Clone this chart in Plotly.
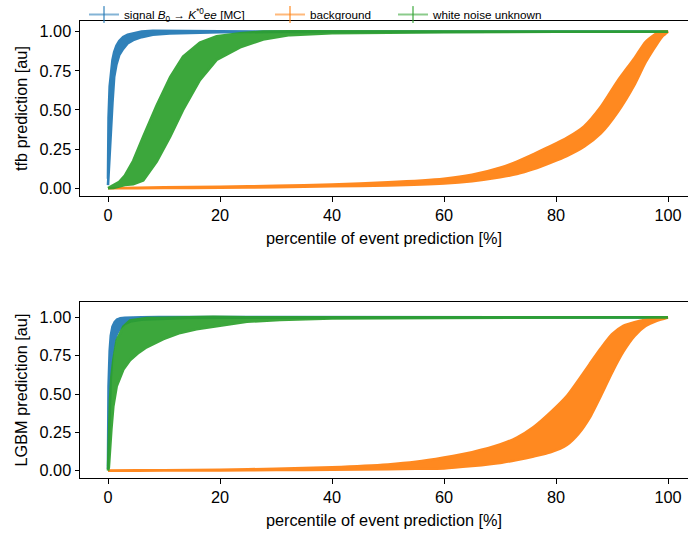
import plotly.graph_objects as go

# ---------------- data ----------------
series_names = ["signal <i>B</i><sub>0</sub> → <i>K</i><sup>*0</sup><i>ee</i> [MC]",
                "background", "white noise unknown"]
series_colors = ["#1f77b4", "#ff7f0e", "#2ca02c"]

# top panel: tfb prediction  (x = percentile, y = mean prediction, e = half error band)
tfb_sig_x = [0, 0.1, 0.3, 0.5, 0.8, 1.1, 1.5, 2.0, 2.7, 3.5, 4.5, 6, 8, 11, 15, 20, 30, 50, 100]
tfb_sig_y = [0.04, 0.265, 0.425, 0.535, 0.685, 0.79, 0.85, 0.895, 0.928, 0.953, 0.968, 0.983, 0.993, 0.997, 0.998, 0.999, 0.9995, 1.0, 1.0]
tfb_sig_e = [0.02, 0.185, 0.225, 0.205, 0.135, 0.08, 0.06, 0.045, 0.038, 0.028, 0.022, 0.018, 0.013, 0.009, 0.005, 0.003, 0.0015, 0.001, 0.0]

tfb_bkg_x = [0, 10, 20, 30, 40, 50, 60, 65, 70, 73, 76, 79, 82, 85, 88, 91, 94, 96, 98, 99, 100]
tfb_bkg_y = [0.0, 0.003, 0.006, 0.011, 0.018, 0.027, 0.045, 0.065, 0.1, 0.13, 0.17, 0.215, 0.265, 0.33, 0.435, 0.585, 0.745, 0.87, 0.955, 0.985, 1.0]
tfb_bkg_e = [0.0, 0.002, 0.003, 0.004, 0.006, 0.01, 0.015, 0.02, 0.03, 0.04, 0.048, 0.053, 0.058, 0.065, 0.085, 0.1, 0.085, 0.065, 0.035, 0.015, 0.0]

tfb_wn_x = [0, 1, 2, 3, 4.5, 6.3, 8.7, 11.1, 13.4, 16.4, 19.4, 23.6, 27.7, 32.5, 40, 50, 60, 80, 100]
tfb_wn_y = [0.0, 0.01, 0.025, 0.05, 0.1, 0.19, 0.35, 0.52, 0.67, 0.81, 0.895, 0.945, 0.975, 0.99, 0.996, 0.998, 0.999, 1.0, 1.0]
tfb_wn_e = [0.0, 0.008, 0.015, 0.03, 0.075, 0.14, 0.18, 0.19, 0.17, 0.12, 0.075, 0.045, 0.025, 0.012, 0.006, 0.003, 0.002, 0.001, 0.0]

# bottom panel: LGBM prediction
lgbm_sig_x = [0, 0.1, 0.3, 0.5, 0.8, 1.2, 1.6, 2.2, 3, 4, 6, 9, 14, 20, 40, 100]
lgbm_sig_y = [0.02, 0.35, 0.6, 0.74, 0.85, 0.91, 0.94, 0.962, 0.977, 0.986, 0.993, 0.997, 0.999, 1.0, 1.0, 1.0]
lgbm_sig_e = [0.01, 0.2, 0.18, 0.14, 0.09, 0.06, 0.045, 0.032, 0.02, 0.013, 0.008, 0.005, 0.003, 0.002, 0.001, 0.0]

lgbm_bkg_x = [0, 10, 20, 30, 40, 50, 55, 60, 65, 70, 73, 76, 79, 82, 84, 86, 88, 90, 92, 94, 96, 98, 100]
lgbm_bkg_y = [0.0, 0.002, 0.004, 0.008, 0.014, 0.025, 0.035, 0.05, 0.075, 0.11, 0.143, 0.189, 0.25, 0.33, 0.415, 0.52, 0.643, 0.765, 0.86, 0.923, 0.964, 0.985, 1.0]
lgbm_bkg_e = [0.0, 0.001, 0.002, 0.004, 0.008, 0.015, 0.022, 0.035, 0.045, 0.06, 0.073, 0.096, 0.13, 0.16, 0.175, 0.175, 0.155, 0.125, 0.085, 0.045, 0.02, 0.007, 0.0]

lgbm_wn_x = [0, 0.15, 0.36, 0.6, 0.95, 1.55, 2.74, 3.93, 5.5, 6.9, 9.9, 12.9, 15.8, 18.8, 24.8, 30.7, 40, 60, 100]
lgbm_wn_y = [0.0, 0.12, 0.28, 0.44, 0.57, 0.70, 0.80, 0.85, 0.88, 0.90, 0.928, 0.949, 0.962, 0.972, 0.986, 0.992, 0.997, 0.999, 1.0]
lgbm_wn_e = [0.0, 0.1, 0.18, 0.17, 0.15, 0.15, 0.14, 0.13, 0.11, 0.095, 0.07, 0.05, 0.04, 0.032, 0.015, 0.009, 0.004, 0.002, 0.0]

x_ticks = [0, 20, 40, 60, 80, 100]
y_ticks = [0.0, 0.25, 0.5, 0.75, 1.0]
y_ticktext = ["0.00", "0.25", "0.50", "0.75", "1.00"]
x_title = "percentile of event prediction [%]"
y_titles = ["tfb prediction [au]", "LGBM prediction [au]"]

panels = [
    ("x", "y", [(tfb_sig_x, tfb_sig_y, tfb_sig_e), (tfb_bkg_x, tfb_bkg_y, tfb_bkg_e), (tfb_wn_x, tfb_wn_y, tfb_wn_e)]),
    ("x2", "y2", [(lgbm_sig_x, lgbm_sig_y, lgbm_sig_e), (lgbm_bkg_x, lgbm_bkg_y, lgbm_bkg_e), (lgbm_wn_x, lgbm_wn_y, lgbm_wn_e)]),
]

def rgba(hexc, a):
    h = hexc.lstrip("#")
    return "rgba(%d,%d,%d,%.2f)" % (int(h[0:2], 16), int(h[2:4], 16), int(h[4:6], 16), a)

fig = go.Figure()

for xref, yref, series in panels:
    for i, ((xs, ys, es), col) in enumerate(zip(series, series_colors)):
        up = [y + e for y, e in zip(ys, es)]
        lo = [y - e for y, e in zip(ys, es)]
        shape = "spline" if i == 1 else "linear"
        fig.add_trace(go.Scatter(
            x=list(xs) + list(xs)[::-1], y=up + lo[::-1],
            fill="toself", fillcolor=col,
            line=dict(width=2.6, color=col, shape=shape, smoothing=0.6),
            mode="lines", opacity=0.92, showlegend=False, hoverinfo="skip",
            xaxis=xref, yaxis=yref))

# legend entries ("+" shaped like errorbar handles), one legend box per entry
legend_ids = ["legend", "legend2", "legend3"]
legend_x = [0.0066, 0.3125, 0.5148]
for name, col, lid in zip(series_names, series_colors, legend_ids):
    fig.add_trace(go.Scatter(
        x=[None], y=[None], mode="lines+markers", name=name, legend=lid,
        line=dict(color=rgba(col, 0.55), width=2),
        marker=dict(symbol="line-ns", size=12, line=dict(width=2, color=rgba(col, 0.55))),
        xaxis="x", yaxis="y"))

FONT = "Liberation Sans, Arial, sans-serif"
font = dict(family=FONT, size=16.3, color="black")
lfont = dict(family=FONT, size=11.7, color="black")

def xaxis_cfg(anchor):
    return dict(range=[-5, 103.57], tickvals=x_ticks, ticks="outside", ticklen=4.5, tickwidth=1,
                tickcolor="black", showline=True, linecolor="black", linewidth=1, mirror=True,
                showgrid=False, zeroline=False, anchor=anchor,
                title=dict(text=x_title, font=font, standoff=9), tickfont=font)

def yaxis_cfg(domain, rng, title, anchor):
    return dict(domain=domain, range=rng, tickvals=y_ticks, ticktext=y_ticktext, ticks="outside",
                ticklen=4.5, tickwidth=1, tickcolor="black", showline=True, linecolor="black",
                linewidth=1, mirror=False, showgrid=False, zeroline=False, anchor=anchor,
                title=dict(text=title, font=font, standoff=7), tickfont=font)

legends = {}
for lid, lx in zip(legend_ids, legend_x):
    legends[lid] = dict(orientation="h", x=lx, xanchor="left", y=1.0, yanchor="top",
                        yref="container", font=lfont, bgcolor="rgba(0,0,0,0)",
                        itemwidth=30, borderwidth=0)

fig.update_layout(
    width=688, height=534,
    margin=dict(l=80, r=0, t=21, b=56, autoexpand=False),
    paper_bgcolor="white", plot_bgcolor="white",
    font=font,
    xaxis=xaxis_cfg("y"),
    xaxis2=xaxis_cfg("y2"),
    yaxis=yaxis_cfg([0.617, 1.0], [-0.05, 1.068], y_titles[0], "x"),
    yaxis2=yaxis_cfg([0.0, 0.385], [-0.048, 1.10], y_titles[1], "x2"),
    showlegend=True,
    **legends,
)

fig.write_html("out.html")
